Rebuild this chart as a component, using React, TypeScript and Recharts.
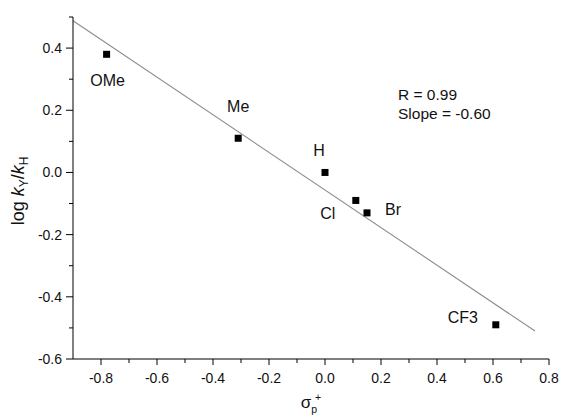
import React from 'react';
import { ScatterChart, Scatter, XAxis, YAxis, ReferenceLine } from 'recharts';

// ---- data ----
const substituents = ['OMe', 'Me', 'H', 'Cl', 'Br', 'CF3'];
const sigmaP = [-0.78, -0.31, 0, 0.11, 0.15, 0.61];
const logKRatio = [0.38, 0.11, 0, -0.09, -0.13, -0.49];
const fitX = [-0.9, 0.75];
const fitY = [0.488, -0.51];
const xTicks = [-0.8, -0.7, -0.6, -0.5, -0.4, -0.3, -0.2, -0.1, 0, 0.1, 0.2, 0.3, 0.4, 0.5, 0.6, 0.7, 0.8];
const yTicks = [-0.6, -0.5, -0.4, -0.3, -0.2, -0.1, 0, 0.1, 0.2, 0.3, 0.4, 0.5];
const annotationLines = ['R = 0.99', 'Slope = -0.60'];

const points = substituents.map((name, i) => ({ name, x: sigmaP[i], y: logKRatio[i] }));

// ---- style ----
const FONT = '"Liberation Sans", Arial, sans-serif';
const labelOffsets: Record<string, { dx: number; dy: number }> = {
  OMe: { dx: 1, dy: 26 },
  Me: { dx: 0, dy: -32 },
  H: { dx: -6, dy: -22 },
  Cl: { dx: -28, dy: 13 },
  Br: { dx: 26, dy: -4 },
  CF3: { dx: -33, dy: -8 },
};

const isMajor = (v: number) => Math.abs(Math.round(v * 10)) % 2 === 0;

const XTick = (props: any) => {
  const { x, y, payload } = props;
  const v = payload.value as number;
  const major = isMajor(v);
  return (
    <g>
      <line x1={x} x2={x} y1={y} y2={y + (major ? 6 : 4)} stroke="#000" strokeWidth={1} />
      {major && (
        <text x={x} y={y + 24} textAnchor="middle" fontSize={14} fontFamily={FONT} fill="#111">
          {v.toFixed(1)}
        </text>
      )}
    </g>
  );
};

const YTick = (props: any) => {
  const { x, y, payload } = props;
  const v = payload.value as number;
  const major = isMajor(v);
  return (
    <g>
      <line x1={x} x2={x - (major ? 7 : 4)} y1={y} y2={y} stroke="#000" strokeWidth={1} />
      {major && (
        <text x={x - 11} y={y + 5} textAnchor="end" fontSize={14} fontFamily={FONT} fill="#111">
          {v.toFixed(1)}
        </text>
      )}
    </g>
  );
};

const Marker = (props: any) => {
  const { cx, cy, payload } = props;
  const o = labelOffsets[payload.name] || { dx: 0, dy: 0 };
  return (
    <g>
      <rect x={cx - 3.5} y={cy - 3.5} width={7} height={7} fill="#000" />
      <text x={cx + o.dx} y={cy + o.dy + 5.7} textAnchor="middle" fontSize={16} fontFamily={FONT} fill="#111">
        {payload.name}
      </text>
    </g>
  );
};

export default function App() {
  return (
    <div style={{ position: 'absolute', left: 0, top: 0, width: 561, height: 420, background: '#fff', fontFamily: FONT }}>
      <ScatterChart width={561} height={420} margin={{ top: 17, right: 12, bottom: 0, left: 0 }}>
        <XAxis
          type="number"
          dataKey="x"
          domain={[-0.9, 0.8]}
          ticks={xTicks}
          interval={0}
          tick={<XTick />}
          tickLine={false}
          tickSize={0}
          tickMargin={0}
          height={61}
          axisLine={{ stroke: '#000', strokeWidth: 1 }}
        />
        <YAxis
          type="number"
          dataKey="y"
          domain={[-0.6, 0.5]}
          ticks={yTicks}
          interval={0}
          tick={<YTick />}
          tickLine={false}
          tickSize={0}
          tickMargin={0}
          width={73}
          axisLine={{ stroke: '#000', strokeWidth: 1 }}
        />
        <ReferenceLine
          segment={[{ x: fitX[0], y: fitY[0] }, { x: fitX[1], y: fitY[1] }]}
          stroke="#8c8c8c"
          strokeWidth={1.1}
          ifOverflow="visible"
        />
        <Scatter data={points} shape={<Marker />} isAnimationActive={false} />
      </ScatterChart>
      <svg
        width={561}
        height={420}
        style={{ position: 'absolute', left: 0, top: 0, pointerEvents: 'none' }}
      >
        {annotationLines.map((t, i) => (
          <text key={t} x={398} y={99.5 + i * 19} fontSize={15.5} fontFamily={FONT} fill="#111">
            {t}
          </text>
        ))}
        <text
          x={18}
          y={191}
          transform="rotate(-90, 18, 191)"
          textAnchor="middle"
          fontSize={18}
          fontFamily={FONT}
          fill="#111"
          dy={6}
        >
          {'log '}
          <tspan fontStyle="italic">k</tspan>
          <tspan fontSize={12} dy={4}>Y</tspan>
          <tspan dy={-4}>/</tspan>
          <tspan fontStyle="italic">k</tspan>
          <tspan fontSize={12} dy={4}>H</tspan>
        </text>
        <text x={311} y={408} textAnchor="middle" fontSize={17} fontFamily={FONT} fill="#111">
          σ
          <tspan fontSize={10.5} dy={5}>p</tspan>
          <tspan fontSize={10.5} dx={-2} dy={-12}>+</tspan>
        </text>
      </svg>
    </div>
  );
}
